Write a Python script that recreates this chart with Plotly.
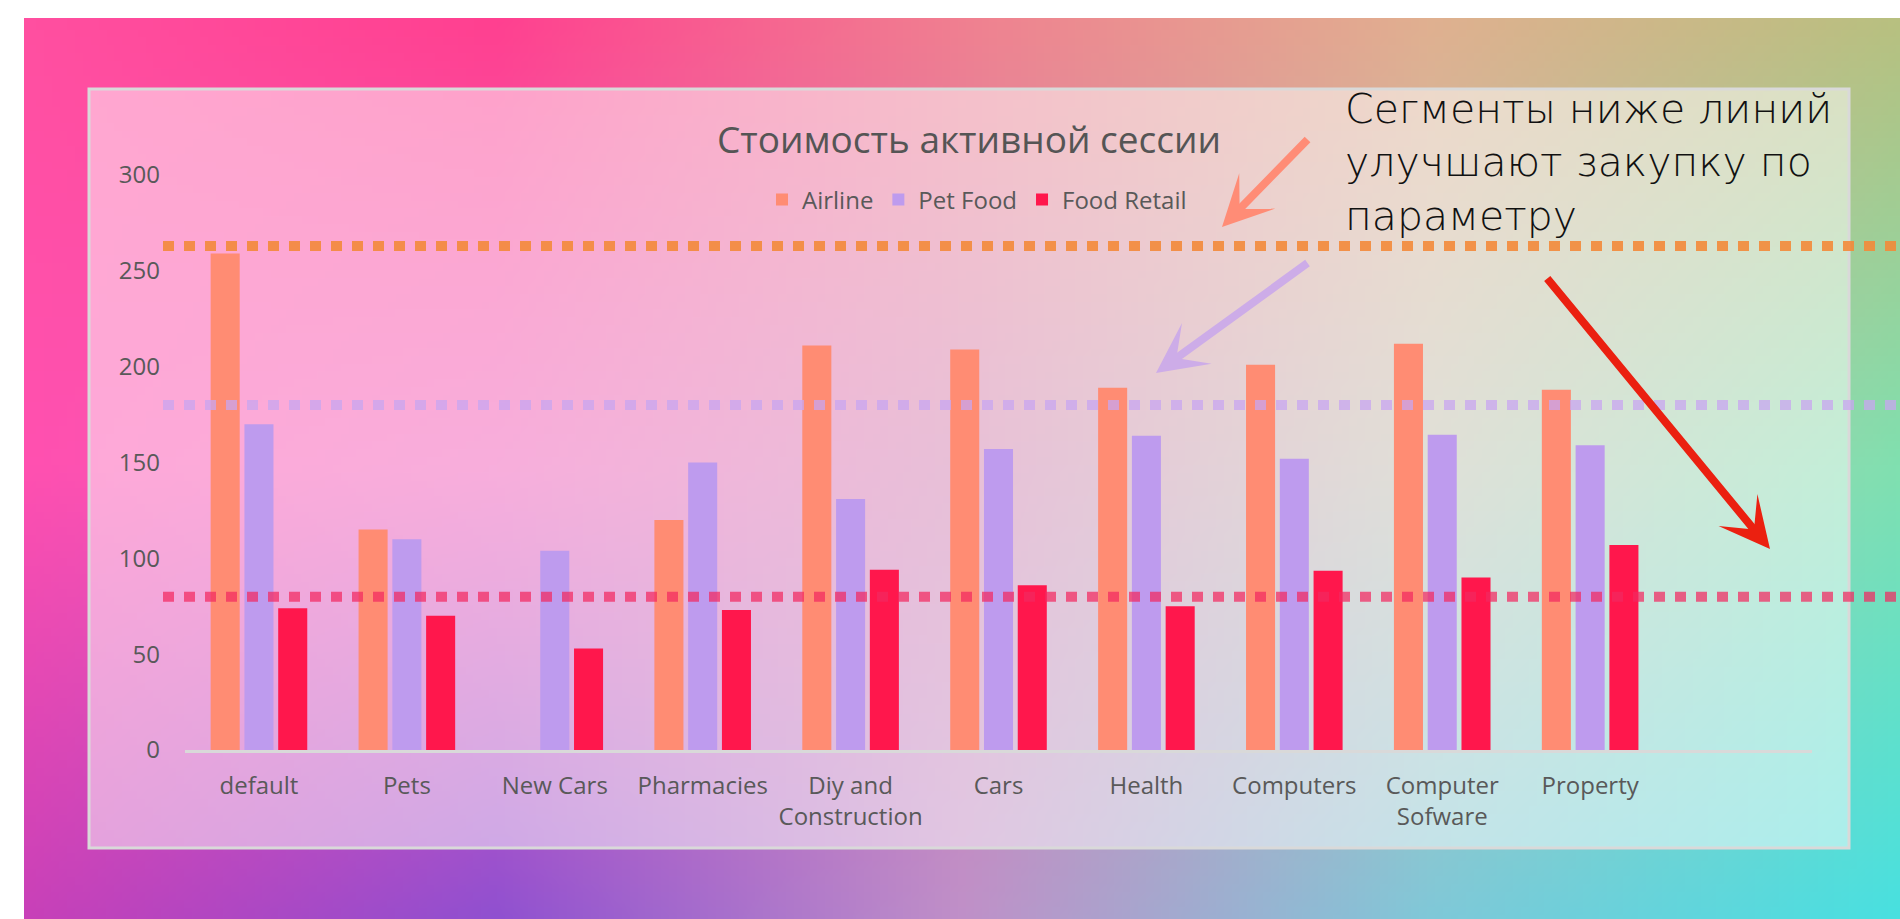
import base64
import struct
import zlib
import numpy as np
import plotly.graph_objects as go

# ---------------- data ----------------
categories = ["default", "Pets", "New Cars", "Pharmacies", "Diy and Construction",
              "Cars", "Health", "Computers", "Computer Sofware", "Property"]
tick_labels = ["default", "Pets", "New Cars", "Pharmacies", "Diy and<br>Construction",
               "Cars", "Health", "Computers", "Computer<br>Sofware", "Property"]
series_names = ["Airline", "Pet Food", "Food Retail"]
airline = [259, 115, None, 120, 211, 209, 189, 201, 212, 188]
pet_food = [170, 110, 104, 150, 131, 157, 164, 152, 164.5, 159]
food_retail = [74, 70, 53, 73, 94, 86, 75, 93.5, 90, 107]
threshold_values = [263, 180, 80]  # reference lines: Airline, Pet Food, Food Retail
y_ticks = [0, 50, 100, 150, 200, 250, 300]
title_text = "Стоимость активной сессии"
note_lines = ["Сегменты ниже линий", "улучшают закупку по", "параметру"]

# ---------------- styling ----------------
W, H = 1900, 919
bar_colors = ["#FF8C73", "#BE9BEE", "#FF174C"]
line_colors = ["rgba(243,138,58,0.9)", "rgba(200,165,240,0.75)", "rgba(242,40,95,0.72)"]
arrow_colors = ["#FF8C76", "#CDACE8", "#EB2010"]
text_gray = "#595959"
FONT = "Open Sans"


def px(x):
    return x / W


def py(y):
    return 1 - y / H


# background gradient (decorative) generated as PNG
grid = np.array([
    [[255, 79, 160], [255, 64, 144], [240, 128, 144], [224, 176, 144], [184, 192, 128]],
    [[255, 80, 176], [240, 92, 184], [208, 128, 176], [192, 192, 176], [128, 224, 176]],
    [[200, 64, 184], [144, 80, 208], [192, 144, 200], [128, 200, 216], [72, 224, 224]],
], float)
gw, gh = 240, 116
ys = np.linspace(0, grid.shape[0] - 1, gh)
xs = np.linspace(0, grid.shape[1] - 1, gw)
y0 = np.clip(np.floor(ys).astype(int), 0, grid.shape[0] - 2)
x0 = np.clip(np.floor(xs).astype(int), 0, grid.shape[1] - 2)
fy = (ys - y0)[:, None, None]
fx = (xs - x0)[None, :, None]
a = grid[y0][:, x0]
b = grid[y0][:, x0 + 1]
c = grid[y0 + 1][:, x0]
d = grid[y0 + 1][:, x0 + 1]
img = (a * (1 - fx) + b * fx) * (1 - fy) + (c * (1 - fx) + d * fx) * fy
img = np.clip(np.round(img), 0, 255).astype(np.uint8)


def png_data_uri(arr):
    h, w, _ = arr.shape
    raw = b"".join(b"\x00" + arr[r].tobytes() for r in range(h))

    def chunk(t, data):
        return (struct.pack(">I", len(data)) + t + data
                + struct.pack(">I", zlib.crc32(t + data) & 0xFFFFFFFF))

    png = (b"\x89PNG\r\n\x1a\n"
           + chunk(b"IHDR", struct.pack(">IIBBBBB", w, h, 8, 2, 0, 0, 0))
           + chunk(b"IDAT", zlib.compress(raw, 9))
           + chunk(b"IEND", b""))
    return "data:image/png;base64," + base64.b64encode(png).decode()


fig = go.Figure()
for name, vals, col in zip(series_names, [airline, pet_food, food_retail], bar_colors):
    fig.add_trace(go.Bar(x=categories, y=vals, name=name, marker_color=col,
                         marker_line_width=0))

shapes = [
    dict(type="rect", xref="paper", yref="paper", x0=px(89), x1=px(1849),
         y0=py(848), y1=py(89), fillcolor="rgba(255,255,255,0.5)",
         line=dict(color="#D9D9D9", width=3), layer="below"),
]
for v, col in zip(threshold_values, line_colors):
    shapes.append(dict(type="line", xref="paper", yref="y", x0=px(163), x1=1.0,
                       y0=v, y1=v, line=dict(color=col, width=10, dash="11px,10px"),
                       layer="above"))

arrows = [
    # tip (px), start (px)
    ((1222, 227), (1309, 138)),
    ((1156, 373), (1309, 262)),
    ((1770, 549), (1546, 277)),
]
annotations = []
for (tip, start), col in zip(arrows, arrow_colors):
    annotations.append(dict(x=px(tip[0]), y=py(tip[1]), xref="paper", yref="paper",
                            text="", showarrow=True, axref="pixel", ayref="pixel",
                            ax=start[0] - tip[0], ay=start[1] - tip[1],
                            arrowhead=3, arrowwidth=8, arrowsize=1.05, arrowcolor=col))
annotations.append(dict(x=px(1343), y=py(162), xref="paper", yref="paper",
                        xanchor="left", yanchor="middle", align="left",
                        text="<br>".join(note_lines), showarrow=False,
                        font=dict(family="DejaVu Sans", size=41, color="#111111",
                                  weight=200)))

fig.update_layout(
    template="none",
    width=W, height=H, autosize=False,
    margin=dict(l=0, r=0, t=0, b=0, pad=0, autoexpand=False),
    paper_bgcolor="white", plot_bgcolor="rgba(0,0,0,0)",
    font=dict(family=FONT, color=text_gray),
    barmode="group", bargap=0.315, bargroupgap=0.14,
    title=dict(text=title_text, x=px(969), xanchor="center", y=py(140),
               yanchor="middle", xref="paper", yref="paper",
               font=dict(family=FONT, size=37, color="#555555")),
    legend=dict(orientation="h", x=px(762), xanchor="left", y=py(200),
                yanchor="middle", font=dict(size=24, color=text_gray),
                bgcolor="rgba(0,0,0,0)", itemclick=False),
    xaxis=dict(domain=[px(185), px(1812)], range=[-0.5, 10.5], automargin=False,
               tickmode="array", tickvals=categories, ticktext=tick_labels,
               showline=True, linecolor="#D9D9D9", linewidth=3, ticks="",
               showgrid=False, zeroline=False, ticklabelstandoff=12,
               tickfont=dict(size=24, color=text_gray)),
    yaxis=dict(domain=[py(750), py(175)], range=[0, 300], tickmode="array",
               automargin=False,
               tickvals=y_ticks, showgrid=False, zeroline=False, showline=False,
               ticks="", ticklabelstandoff=24,
               tickfont=dict(size=24, color=text_gray)),
    shapes=shapes,
    annotations=annotations,
    images=[dict(source=png_data_uri(img), xref="paper", yref="paper",
                 x=px(24), y=py(18), sizex=1 - px(24), sizey=py(18),
                 xanchor="left", yanchor="top", sizing="stretch", layer="below")],
)

fig.write_html("out.html", config={"displayModeBar": False},
               post_script="document.body.style.margin='0';")
